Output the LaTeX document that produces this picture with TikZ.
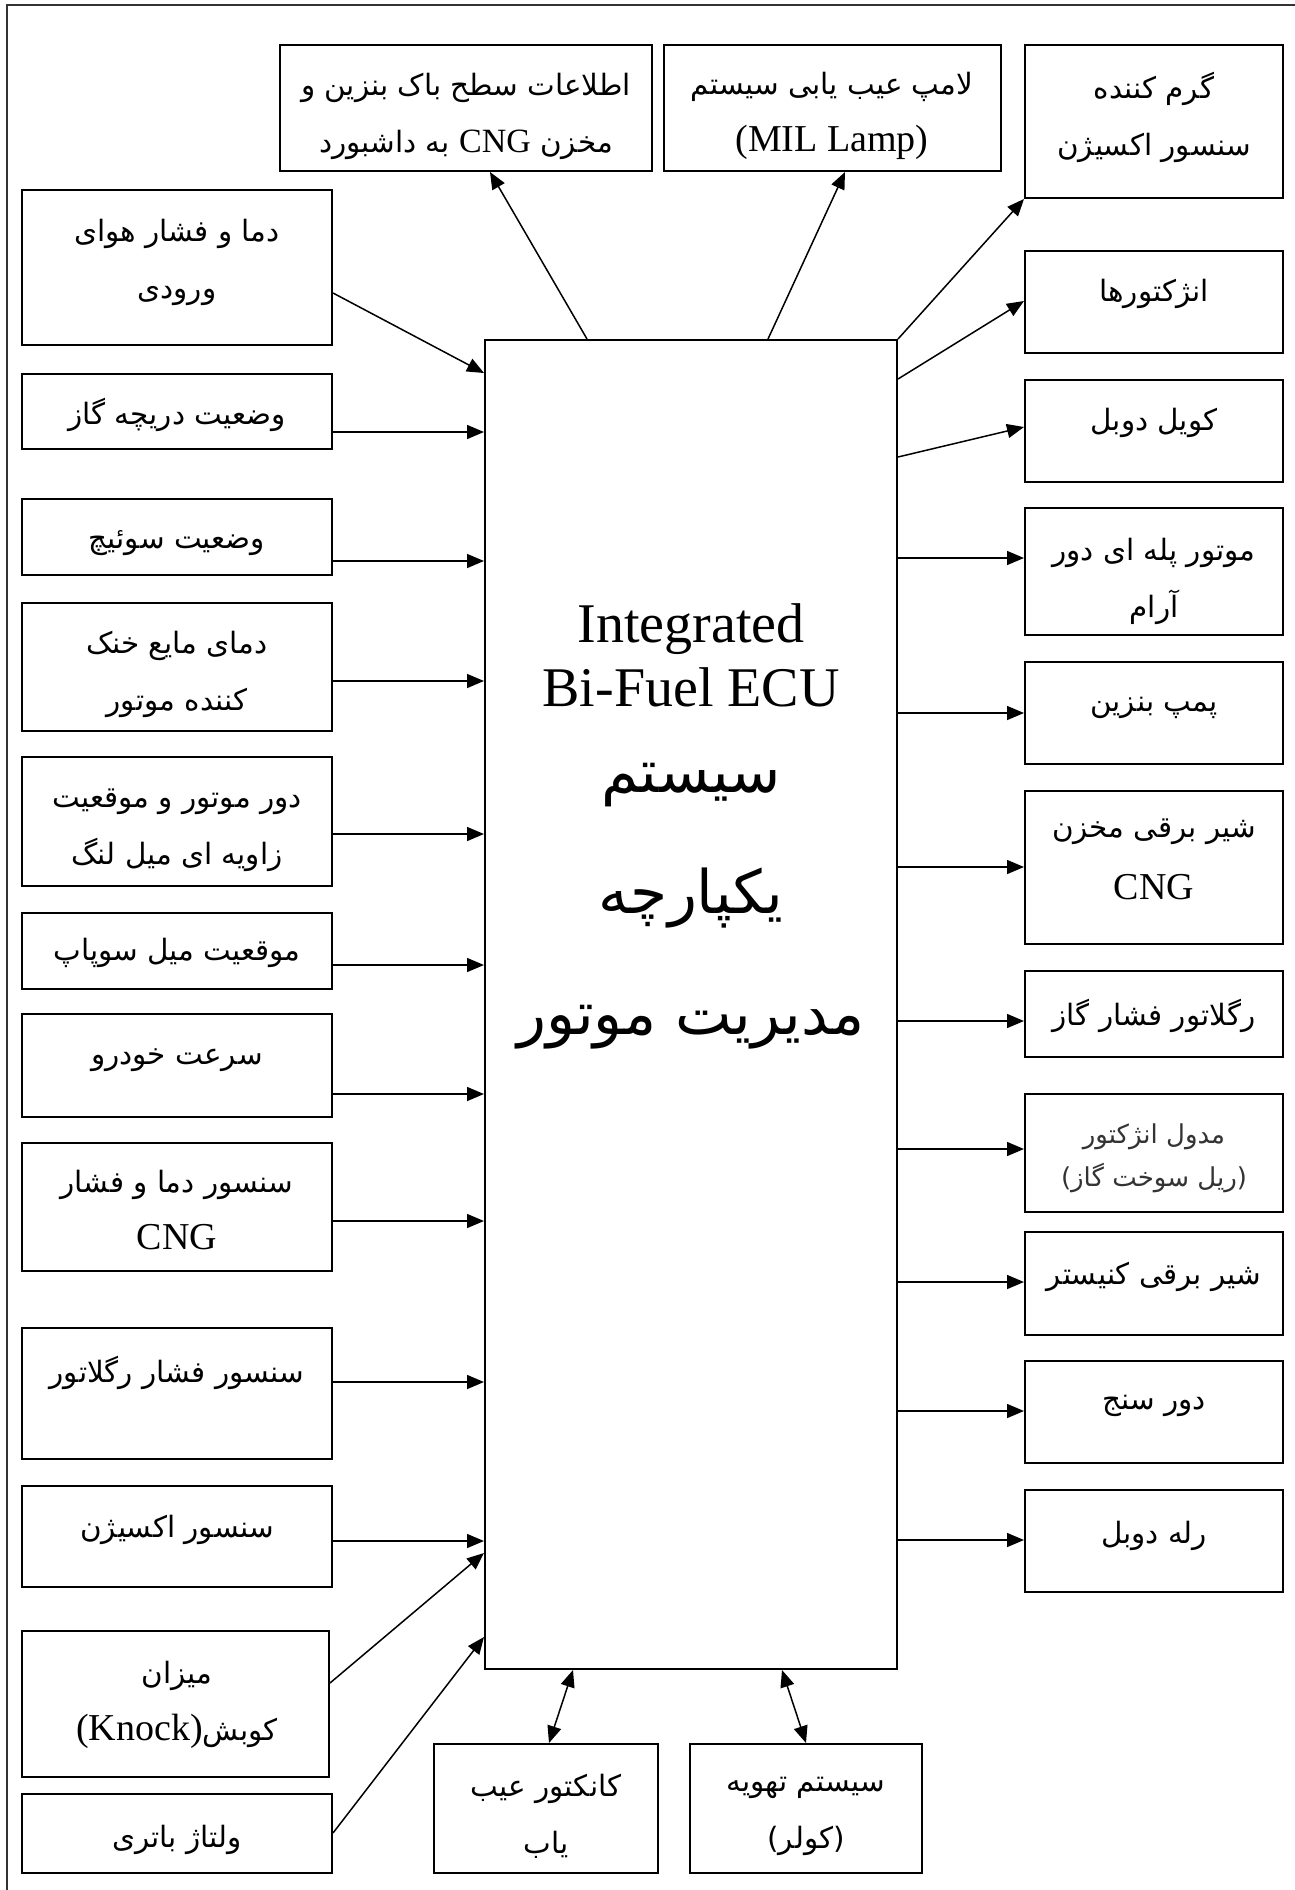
\documentclass[tikz,border=0pt]{standalone}
\usepackage{fontspec}
\setmainfont{Liberation Serif}
\newfontfamily\fa[Script=Arabic]{DejaVu Sans}
\newfontfamily\en{Liberation Serif}
\TeXXeTstate=1
\usetikzlibrary{arrows.meta}
\newcommand\rtl[1]{\beginR#1\endR}
\newcommand\lat[1]{\beginL{\en #1}\endL{}}
\newcommand\bx[5]{\node[box, minimum width={(#4-#2)*0.5pt}, minimum height={(#5-#3)*0.5pt}] (#1) at ({(#2+#4)/2},{(#3+#5)/2}) {};}
\tikzset{
  box/.style={draw, line width=1pt, rectangle, inner sep=0pt},
  txt/.style={font=\fa\fontsize{14.7}{28.5}\selectfont, align=center, inner sep=0pt},
  ltxt/.style={font=\en\fontsize{19}{28.5}\selectfont, align=center, inner sep=0pt},
  arr/.style={-{Triangle[length=8.5pt,width=7pt]}, line width=0.75pt},
  darr/.style={{Triangle[length=8.5pt,width=7pt]}-{Triangle[length=8.5pt,width=7pt]}, line width=0.75pt},
}
\begin{document}
\begin{tikzpicture}[x=0.5pt,y=-0.5pt]
\useasboundingbox (0,0) rectangle (1295,1890);
% outer frame
\draw[line width=1.2pt, black!80] (7,1890) -- (7,5) -- (1295,5);
% ECU
\bx{ecu}{485}{340}{897}{1669}
\node[inner sep=0pt, align=center, font=\en\fontsize{28}{32}\selectfont] (ecuen) at (691,655) {Integrated\\Bi-Fuel ECU};
\node[inner sep=0pt, align=center, font=\fa\fontsize{30}{60.5}\selectfont] (ecufa) at (691,906) {\rtl{سیستم}\\\rtl{یکپارچه}\\\rtl{مدیریت موتور}};
% top boxes
\bx{t1}{280}{45}{652}{171}
\node[txt] (t1t) at (466,116) {\rtl{اطلاعات سطح باک بنزین و}\\\rtl{مخزن \lat{\fontsize{17}{20}\selectfont CNG} به داشبورد}};
\bx{t2}{664}{45}{1001}{171}
\node[txt] (t2t) at (832,116) {\rtl{لامپ عیب یابی سیستم}\\{\en\fontsize{19}{20}\selectfont (MIL Lamp)}};
% left column
\bx{l1}{22}{190}{332}{345}
\node[txt] (l1t) at (177,262) {\rtl{دما و فشار هوای}\\\rtl{ورودی}};
\bx{l2}{22}{374}{332}{449}
\node[txt] (l2t) at (177,415) {\rtl{وضعیت دریچه گاز}};
\bx{l3}{22}{499}{332}{575}
\node[txt] (l3t) at (177,543) {\rtl{وضعیت سوئیچ}};
\bx{l4}{22}{603}{332}{731}
\node[txt] (l4t) at (177,674) {\rtl{دمای مایع خنک}\\\rtl{کننده موتور}};
\bx{l5}{22}{757}{332}{886}
\node[txt] (l5t) at (177,830) {\rtl{دور موتور و موقعیت}\\\rtl{زاویه ای میل لنگ}};
\bx{l6}{22}{913}{332}{989}
\node[txt] (l6t) at (177,953) {\rtl{موقعیت میل سوپاپ}};
\bx{l7}{22}{1014}{332}{1117}
\node[txt] (l7t) at (177,1060) {\rtl{سرعت خودرو}};
\bx{l8}{22}{1143}{332}{1271}
\node[txt] (l8t) at (177,1185) {\rtl{سنسور دما و فشار}};
\node[ltxt] (l8c) at (177,1237) {CNG};
\bx{l9}{22}{1328}{332}{1459}
\node[txt] (l9t) at (177,1373) {\rtl{سنسور فشار رگلاتور}};
\bx{l10}{22}{1486}{332}{1587}
\node[txt] (l10t) at (177,1530) {\rtl{سنسور اکسیژن}};
\bx{l11}{22}{1631}{329}{1777}
\node[txt] (l11t) at (177,1705) {\rtl{میزان}\\\rtl{کوبش\lat{\fontsize{19}{20}\selectfont(Knock)}}};
\bx{l12}{22}{1794}{332}{1873}
\node[txt] (l12t) at (177,1840) {\rtl{ولتاژ باتری}};
% right column
\bx{r1}{1025}{45}{1283}{198}
\node[txt] (r1t) at (1154,117) {\rtl{گرم کننده}\\\rtl{سنسور اکسیژن}};
\bx{r2}{1025}{251}{1283}{353}
\node[txt] (r2t) at (1154,294) {\rtl{انژکتورها}};
\bx{r3}{1025}{380}{1283}{482}
\node[txt] (r3t) at (1154,423) {\rtl{کویل دوبل}};
\bx{r4}{1025}{508}{1283}{635}
\node[txt] (r4t) at (1154,581) {\rtl{موتور پله ای دور}\\\rtl{آرام}};
\bx{r5}{1025}{662}{1283}{764}
\node[txt] (r5t) at (1154,708) {\rtl{پمپ بنزین}};
\bx{r6}{1025}{791}{1283}{944}
\node[txt] (r6t) at (1154,832) {\rtl{شیر برقی مخزن}};
\node[ltxt] (r6c) at (1154,887) {CNG};
\bx{r7}{1025}{971}{1283}{1057}
\node[txt] (r7t) at (1154,1016) {\rtl{رگلاتور فشار گاز}};
\bx{r8}{1025}{1094}{1283}{1212}
\node[txt, font=\fa\fontsize{13}{21.5}\selectfont, text=black!80] (r8t) at (1154,1158) {\rtl{مدول انژکتور}\\\rtl{(ریل سوخت گاز)}};
\bx{r9}{1025}{1232}{1283}{1335}
\node[txt] (r9t) at (1154,1277) {\rtl{شیر برقی کنیستر}};
\bx{r10}{1025}{1361}{1283}{1463}
\node[txt] (r10t) at (1154,1406) {\rtl{دور سنج}};
\bx{r11}{1025}{1490}{1283}{1592}
\node[txt] (r11t) at (1154,1536) {\rtl{رله دوبل}};
% bottom boxes
\bx{b1}{434}{1744}{658}{1873}
\node[txt] (b1t) at (546,1816) {\rtl{کانکتور عیب}\\\rtl{یاب}};
\bx{b2}{690}{1744}{922}{1873}
\node[txt] (b2t) at (806,1816) {\rtl{سیستم تهویه}\\\rtl{(کولر)}};
% connectors: inputs
\draw[arr] (l1.east |- 0,293) -- (ecu.west |- 0,373);
\draw[arr] (l2.east |- 0,432) -- (ecu.west |- 0,432);
\draw[arr] (l3.east |- 0,561) -- (ecu.west |- 0,561);
\draw[arr] (l4.east |- 0,681) -- (ecu.west |- 0,681);
\draw[arr] (l5.east |- 0,834) -- (ecu.west |- 0,834);
\draw[arr] (l6.east |- 0,965) -- (ecu.west |- 0,965);
\draw[arr] (l7.east |- 0,1094) -- (ecu.west |- 0,1094);
\draw[arr] (l8.east |- 0,1221) -- (ecu.west |- 0,1221);
\draw[arr] (l9.east |- 0,1382) -- (ecu.west |- 0,1382);
\draw[arr] (l10.east |- 0,1541) -- (ecu.west |- 0,1541);
\draw[arr] (l11.east |- 0,1683) -- (ecu.west |- 0,1553);
\draw[arr] (l12.east |- 0,1833) -- (ecu.west |- 0,1637);
% connectors: outputs
\draw[arr] (ecu.north -| 587,0) -- (t1.south -| 490,0);
\draw[arr] (ecu.north -| 768,0) -- (t2.south -| 845,0);
\draw[arr] (ecu.north east) -- (r1.south west);
\draw[arr] (ecu.east |- 0,379) -- (r2.west |- 0,301);
\draw[arr] (ecu.east |- 0,457) -- (r3.west |- 0,427);
\draw[arr] (ecu.east |- 0,558) -- (r4.west |- 0,558);
\draw[arr] (ecu.east |- 0,713) -- (r5.west |- 0,713);
\draw[arr] (ecu.east |- 0,867) -- (r6.west |- 0,867);
\draw[arr] (ecu.east |- 0,1021) -- (r7.west |- 0,1021);
\draw[arr] (ecu.east |- 0,1149) -- (r8.west |- 0,1149);
\draw[arr] (ecu.east |- 0,1282) -- (r9.west |- 0,1282);
\draw[arr] (ecu.east |- 0,1411) -- (r10.west |- 0,1411);
\draw[arr] (ecu.east |- 0,1540) -- (r11.west |- 0,1540);
% bidirectional
\draw[darr] (ecu.south -| 573,0) -- (b1.north -| 549,0);
\draw[darr] (ecu.south -| 782,0) -- (b2.north -| 806,0);
\end{tikzpicture}
\end{document}
